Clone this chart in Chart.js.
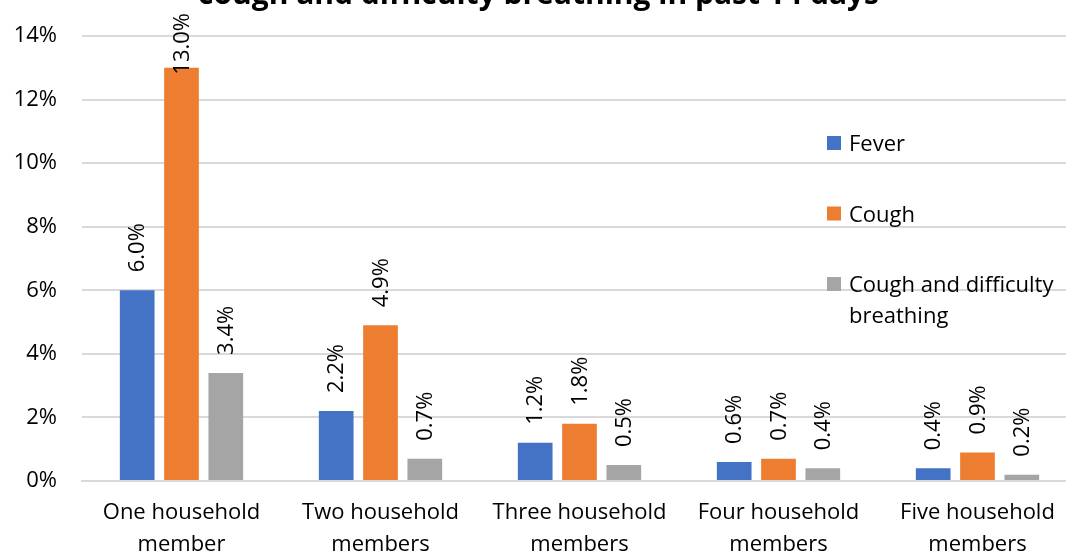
<!doctype html>
<html lang="en">
<head>
  <meta charset="utf-8">
  <title>Fever, cough and cough and difficulty breathing in past 14 days</title>
  <style>
    * {
      margin: 0;
      padding: 0;
    }
    html, body {
      width: 1066px;
      height: 555px;
      overflow: hidden;
      background: white;
    }
    .frame {
      position: relative;
      width: 1066px;
      height: 555px;
      overflow: hidden;
    }
    /* the chart is a bit larger than the frame, its top and right edges fall off */
    .chartBox {
      position: absolute;
      left: 0;
      top: -40px;
      width: 1078px;
      height: 595px;
    }
  </style>
</head>
<body>
  <div class="frame">
    <div class="chartBox">
      <canvas id="myChart"></canvas>
    </div>
  </div>

  <script src="https://cdn.jsdelivr.net/npm/chart.js"></script>
  <script>
    // data
    const categories = [
      ['One household', 'member'],
      ['Two household', 'members'],
      ['Three household', 'members'],
      ['Four household', 'members'],
      ['Five household', 'members']
    ];
    const seriesNames = ['Fever', 'Cough', 'Cough and difficulty breathing'];
    const fever = [6.0, 2.2, 1.2, 0.6, 0.4];
    const cough = [13.0, 4.9, 1.8, 0.7, 0.9];
    const coughBreathing = [3.4, 0.7, 0.5, 0.4, 0.2];
    const yTickMin = 0;
    const yTickMax = 14;
    const yTickStep = 2;

    const colors = ['#4472C4', '#ED7D31', '#A5A5A5'];
    const fontFamily = '"Open Sans", sans-serif';

    // rotated value labels above each bar
    const barLabels = {
      id: 'barLabels',
      afterDatasetsDraw(chart) {
        const ctx = chart.ctx;
        const area = chart.chartArea;
        ctx.save();
        ctx.font = '22px ' + fontFamily;
        ctx.fillStyle = '#000';
        ctx.textAlign = 'left';
        ctx.textBaseline = 'middle';
        chart.data.datasets.forEach((ds, i) => {
          chart.getDatasetMeta(i).data.forEach((bar, j) => {
            const text = ds.data[j].toFixed(1) + '%';
            const w = ctx.measureText(text).width;
            // keep the label inside the chart; long ones slide down over the bar
            const start = Math.max(bar.y - 18, area.top - 23 + w);
            ctx.save();
            ctx.translate(bar.x + 1, start);
            ctx.rotate(-Math.PI / 2);
            ctx.fillText(text, 0, 0);
            ctx.restore();
          });
        });
        ctx.restore();
      }
    };

    // legend at the right, over the plot area, with wrapped text
    const sideLegend = {
      id: 'sideLegend',
      afterDraw(chart) {
        const ctx = chart.ctx;
        const area = chart.chartArea;
        const x = area.left + 745;
        let y = area.top + 115;
        ctx.save();
        ctx.font = '22px ' + fontFamily;
        ctx.textAlign = 'left';
        ctx.textBaseline = 'alphabetic';
        chart.data.datasets.forEach((ds) => {
          ctx.fillStyle = ds.backgroundColor;
          ctx.fillRect(x, y - 15, 14, 14);
          ctx.fillStyle = '#000';
          // word wrap
          const words = ds.label.split(' ');
          const lines = [];
          let line = '';
          words.forEach(wd => {
            const test = line ? line + ' ' + wd : wd;
            if (ctx.measureText(test).width > 215 && line) {
              lines.push(line);
              line = wd;
            } else {
              line = test;
            }
          });
          lines.push(line);
          lines.forEach((l, k) => ctx.fillText(l, x + 22, y + k * 31));
          y += 70.5;
        });
        ctx.restore();
      }
    };

    const data = {
      labels: categories,
      datasets: [
        { label: seriesNames[0], data: fever, backgroundColor: colors[0] },
        { label: seriesNames[1], data: cough, backgroundColor: colors[1] },
        { label: seriesNames[2], data: coughBreathing, backgroundColor: colors[2] }
      ]
    };

    const config = {
      type: 'bar',
      data,
      options: {
        responsive: true,
        maintainAspectRatio: false,
        animation: false,
        categoryPercentage: 0.668,
        barPercentage: 0.783,
        layout: {
          padding: { top: 0, left: 0, right: 1, bottom: 0 }
        },
        scales: {
          x: {
            grid: { display: false },
            border: { display: true, color: '#d9d9d9', width: 2 },
            ticks: {
              color: '#000',
              padding: 8,
              maxRotation: 0,
              autoSkip: false,
              font: { family: fontFamily, size: 22, lineHeight: 32 / 22 }
            },
            afterFit(scale) {
              scale.height = 74;
            }
          },
          y: {
            min: yTickMin,
            max: yTickMax,
            grid: {
              color: '#d9d9d9',
              lineWidth: 2,
              drawTicks: false
            },
            border: { display: false },
            ticks: {
              stepSize: yTickStep,
              color: '#000',
              padding: 25,
              font: { family: fontFamily, size: 22 },
              callback: (value) => value + '%'
            },
            afterFit(scale) {
              scale.width = 82;
            }
          }
        },
        plugins: {
          legend: { display: false },
          tooltip: { enabled: false },
          title: {
            display: true,
            text: 'cough and difficulty breathing in past 14 days',
            color: '#000',
            align: 'center',
            padding: { top: 17, bottom: 23 },
            font: { family: fontFamily, size: 30, weight: 'bold', lineHeight: 1.2 }
          }
        }
      },
      plugins: [barLabels, sideLegend]
    };

    const myChart = new Chart(document.getElementById('myChart'), config);
  </script>
</body>
</html>
